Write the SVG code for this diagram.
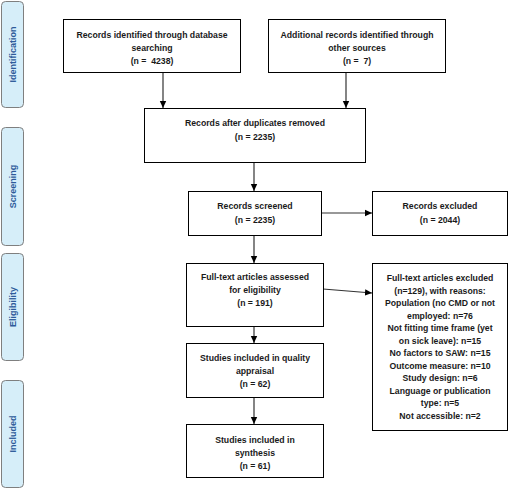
<svg xmlns="http://www.w3.org/2000/svg" width="509" height="489" viewBox="0 0 509 489">
<style>
.bg{fill:#ffffff}
.box{fill:#ffffff;stroke:#000000;stroke-width:1}
.bar{fill:#d6eef9;stroke:#7f7f7f;stroke-width:1}
.t{font-family:"Liberation Sans",Arial,sans-serif;font-size:8.7px;font-weight:bold;fill:#1a1a1a;text-anchor:middle;white-space:pre}
.bt{font-family:"Liberation Sans",Arial,sans-serif;font-size:9px;font-weight:bold;fill:#2e5b9a;text-anchor:middle}
.c{stroke:#333333;stroke-width:1.2;fill:none;marker-end:url(#ah)}
</style>
<defs>
<marker id="ah" markerWidth="8" markerHeight="8" refX="7" refY="4" orient="auto" markerUnits="userSpaceOnUse">
<path d="M0,0.8 L7,4 L0,7.2 Z" fill="#000000"/>
</marker>
</defs>
<rect class="bg" x="0" y="0" width="509" height="489"/>
<g id="phases">
<g id="phase-identification"><rect class="bar" x="1.5" y="1.5" width="22" height="106" rx="4"/><text class="bt" transform="translate(15.5,54.5) rotate(-90)">Identification</text></g>
<g id="phase-screening"><rect class="bar" x="1.5" y="127.5" width="22" height="118" rx="4"/><text class="bt" transform="translate(15.5,186.5) rotate(-90)">Screening</text></g>
<g id="phase-eligibility"><rect class="bar" x="1.5" y="253.5" width="22" height="107" rx="4"/><text class="bt" transform="translate(15.5,307) rotate(-90)">Eligibility</text></g>
<g id="phase-included"><rect class="bar" x="1.5" y="380.5" width="22" height="107" rx="4"/><text class="bt" transform="translate(15.5,434) rotate(-90)">Included</text></g>
</g>
<g id="connectors">
<line class="c" x1="163" y1="72" x2="163" y2="108"/>
<line class="c" x1="346" y1="72" x2="346" y2="108"/>
<line class="c" x1="254" y1="162" x2="254" y2="191"/>
<line class="c" x1="321" y1="213" x2="372" y2="213"/>
<line class="c" x1="254" y1="235" x2="254" y2="263"/>
<line class="c" x1="323" y1="289" x2="372" y2="293"/>
<line class="c" x1="254" y1="326" x2="254" y2="343"/>
<line class="c" x1="254" y1="397" x2="254" y2="424"/>
</g>
<g id="n1"><rect class="box" x="63.5" y="19.5" width="177" height="53"/>
<text class="t" x="152" y="37.5">Records identified through database</text>
<text class="t" x="152" y="50.5">searching</text>
<text class="t" x="152" y="63.5" xml:space="preserve">(n =  4238)</text></g>
<g id="n2"><rect class="box" x="268.5" y="19.5" width="177" height="53"/>
<text class="t" x="357" y="37.5">Additional records identified through</text>
<text class="t" x="357" y="50.5">other sources</text>
<text class="t" x="357" y="63.5" xml:space="preserve">(n =  7)</text></g>
<g id="n3"><rect class="box" x="144.5" y="108.5" width="221" height="54"/>
<text class="t" x="255" y="126">Records after duplicates removed</text>
<text class="t" x="255" y="140">(n = 2235)</text></g>
<g id="n4"><rect class="box" x="188.5" y="191.5" width="133" height="44"/>
<text class="t" x="255" y="208.5">Records screened</text>
<text class="t" x="255" y="222.5">(n = 2235)</text></g>
<g id="n5"><rect class="box" x="372.5" y="191.5" width="135" height="44"/>
<text class="t" x="440" y="208.5">Records excluded</text>
<text class="t" x="440" y="222.5">(n = 2044)</text></g>
<g id="n6"><rect class="box" x="186.5" y="263.5" width="137" height="63"/>
<text class="t" x="255" y="280">Full-text articles assessed</text>
<text class="t" x="255" y="293">for eligibility</text>
<text class="t" x="255" y="306">(n = 191)</text></g>
<g id="n7"><rect class="box" x="186.5" y="343.5" width="137" height="54"/>
<text class="t" x="255" y="361">Studies included in quality</text>
<text class="t" x="255" y="374">appraisal</text>
<text class="t" x="255" y="387">(n = 62)</text></g>
<g id="n8"><rect class="box" x="186.5" y="424.5" width="137" height="53"/>
<text class="t" x="255" y="443">Studies included in</text>
<text class="t" x="255" y="456">synthesis</text>
<text class="t" x="255" y="469">(n = 61)</text></g>
<g id="n9"><rect class="box" x="372.5" y="263.5" width="135" height="167"/>
<text class="t" x="440" y="281">Full-text articles excluded</text>
<text class="t" x="440" y="293.5">(n=129), with reasons:</text>
<text class="t" x="440" y="306">Population (no CMD or not</text>
<text class="t" x="440" y="318.5">employed: n=76</text>
<text class="t" x="440" y="331">Not fitting time frame (yet</text>
<text class="t" x="440" y="343.5">on sick leave): n=15</text>
<text class="t" x="440" y="356">No factors to SAW: n=15</text>
<text class="t" x="440" y="368.5">Outcome measure: n=10</text>
<text class="t" x="440" y="381">Study design: n=6</text>
<text class="t" x="440" y="393.5">Language or publication</text>
<text class="t" x="440" y="406">type: n=5</text>
<text class="t" x="440" y="418.5">Not accessible: n=2</text></g>
</svg>
